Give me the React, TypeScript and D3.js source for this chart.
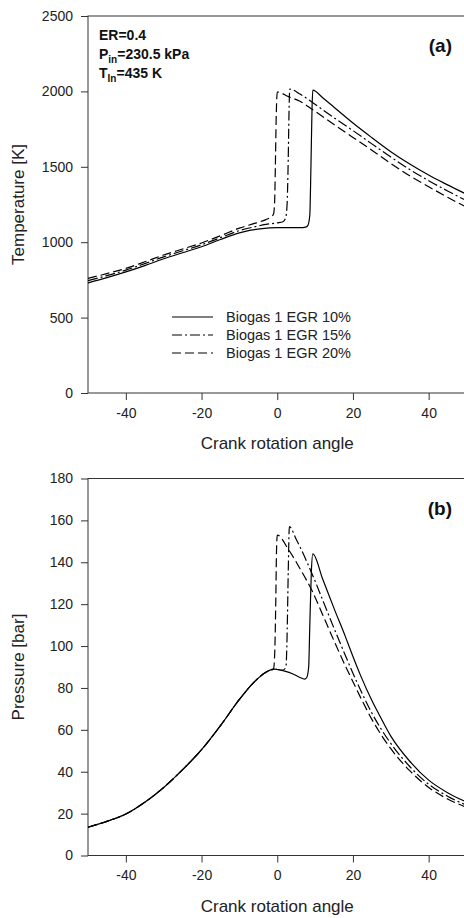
import { useEffect, useRef } from 'react';
import * as d3 from 'd3';

// Panel (a): temperature [K] vs crank angle
const tempAngle10 = [-50, -45, -40, -35, -30, -25, -20, -15, -10, -7, -4, 0, 4, 6, 7.5, 8.1, 8.6, 8.9, 9.2, 9.4, 12, 15, 20, 25, 30, 35, 40, 45, 50];
const temp10 = [730, 765, 803, 845, 890, 930, 970, 1018, 1062, 1080, 1090, 1096, 1097, 1096, 1100, 1112, 1180, 1500, 1900, 2008, 1958, 1895, 1790, 1693, 1600, 1518, 1445, 1380, 1318];

const tempAngle15 = [-50, -45, -40, -35, -30, -25, -20, -15, -10, -6, -3, 0, 1.5, 2.2, 2.6, 2.9, 3.1, 3.3, 6, 9.4, 15, 20, 25, 30, 35, 40, 45, 50];
const temp15 = [745, 778, 815, 858, 903, 943, 983, 1030, 1077, 1102, 1118, 1128, 1136, 1160, 1250, 1550, 1850, 2015, 1983, 1925, 1825, 1740, 1652, 1565, 1482, 1408, 1340, 1275];

const tempAngle20 = [-50, -45, -40, -35, -30, -25, -20, -15, -10, -6, -3, -1.6, -1, -0.7, -0.5, -0.3, 0, 3, 6, 9.4, 15, 20, 25, 30, 35, 40, 45, 50];
const temp20 = [760, 792, 826, 870, 915, 955, 995, 1043, 1093, 1125, 1150, 1168, 1185, 1260, 1500, 1800, 1996, 1965, 1935, 1878, 1780, 1695, 1610, 1522, 1440, 1368, 1298, 1232];

// Panel (b): pressure [bar] vs crank angle
const presAngle10 = [-50, -45, -40, -35, -30, -25, -20, -15, -10, -6, -3, -1, 0, 2, 4, 6, 7.2, 7.8, 8.3, 8.6, 9.0, 9.4, 12, 15, 18, 20, 22, 25, 27, 30, 35, 40, 45, 50];
const pres10 = [13.5, 16.3, 19.8, 25.4, 32.5, 41, 50.5, 62, 74.5, 83, 87.5, 89, 88.8, 88, 86.8, 85, 84.2, 85, 90, 110, 135, 144, 132, 118, 104.5, 95, 86, 74, 67, 57, 45, 36, 30, 25.5];

const presAngle15 = [-50, -45, -40, -35, -30, -25, -20, -15, -10, -6, -3, -1, 0, 1.5, 2.3, 2.6, 2.9, 3.2, 5, 8, 10, 12, 15, 18, 20, 22, 25, 30, 35, 40, 45, 50];
const pres15 = [13.5, 16.3, 19.8, 25.4, 32.5, 41, 50.5, 62, 74.5, 83, 87.5, 89, 88.8, 88.5, 90, 105, 135, 157, 151, 139.5, 131, 122, 108.5, 95.5, 87, 79, 68, 53.5, 42.5, 34, 28.3, 24];

const presAngle20 = [-50, -45, -40, -35, -30, -25, -20, -15, -10, -6, -3, -1, -0.7, -0.4, -0.2, 0, 3, 6, 9.3, 12, 15, 18, 20, 22, 25, 30, 35, 40, 45, 50];
const pres20 = [13.5, 16.3, 19.8, 25.4, 32.5, 41, 50.5, 62, 74.5, 83, 87.5, 89, 95, 120, 145, 153, 146, 137, 126, 115, 102.5, 90.5, 83, 75.5, 65, 51, 40.5, 32.5, 27, 23];

const seriesLabels = ['Biogas 1 EGR 10%', 'Biogas 1 EGR 15%', 'Biogas 1 EGR 20%'];
const seriesDash = ['none', '10,3,2,3', '9,4'];

const xTicks = [-40, -20, 0, 20, 40];
const tempTicks = [0, 500, 1000, 1500, 2000, 2500];
const presTicks = [0, 20, 40, 60, 80, 100, 120, 140, 160, 180];

const FONT = "'Liberation Sans', Arial, sans-serif";
const TEXT = '#222';
const AXIS = '#333';

type Series = { angle: number[]; value: number[] };

export default function App() {
    const svgRef = useRef<SVGSVGElement>(null);

    useEffect(() => {
        if (!svgRef.current) return;
        const svg = d3.select(svgRef.current);
        svg.selectAll('*').remove();

        const xScale = d3.scaleLinear().domain([-50, 50]).range([88, 466.5]);
        // plain hyphen for negatives, like the original
        const fmt = (d: any) => `${d}`;

        const drawPanel = (
            top: number,
            bottom: number,
            yMax: number,
            yTicks: number[],
            yTitle: string,
            tag: string,
            series: Series[],
        ) => {
            const yScale = d3.scaleLinear().domain([0, yMax]).range([bottom, top]);
            const g = svg.append('g');

            // frame
            g.append('rect')
                .attr('x', xScale(-50))
                .attr('y', top)
                .attr('width', xScale(50) - xScale(-50))
                .attr('height', bottom - top)
                .attr('fill', 'none')
                .attr('stroke', AXIS)
                .attr('stroke-width', 1);

            // y axis
            const yAxis = d3.axisLeft(yScale).tickValues(yTicks).tickSize(7).tickPadding(8).tickFormat(fmt);
            const ya = g.append('g').attr('transform', `translate(${xScale(-50)},0)`).call(yAxis);
            ya.select('.domain').remove();
            ya.selectAll('line').attr('stroke', AXIS);
            ya.selectAll('text').attr('fill', TEXT).attr('font-size', 14).attr('font-family', FONT);

            // x axis
            const xAxis = d3.axisBottom(xScale).tickValues(xTicks).tickSize(7).tickPadding(8).tickFormat(fmt);
            const xa = g.append('g').attr('transform', `translate(0,${bottom})`).call(xAxis);
            xa.select('.domain').remove();
            xa.selectAll('line').attr('stroke', AXIS);
            xa.selectAll('text').attr('fill', TEXT).attr('font-size', 14).attr('font-family', FONT);

            // titles
            g.append('text')
                .attr('x', xScale(0))
                .attr('y', bottom + 56)
                .attr('text-anchor', 'middle')
                .attr('font-size', 17)
                .attr('font-family', FONT)
                .attr('fill', TEXT)
                .text('Crank rotation angle');

            g.append('text')
                .attr('transform', `translate(24,${(top + bottom) / 2}) rotate(-90)`)
                .attr('text-anchor', 'middle')
                .attr('font-size', 17)
                .attr('font-family', FONT)
                .attr('fill', TEXT)
                .text(yTitle);

            g.append('text')
                .attr('x', 452)
                .attr('y', top + 36)
                .attr('text-anchor', 'end')
                .attr('font-size', 19)
                .attr('font-weight', 'bold')
                .attr('font-family', FONT)
                .attr('fill', '#111')
                .text(tag);

            // curves
            const line = d3
                .line<[number, number]>()
                .x((d) => xScale(d[0]))
                .y((d) => yScale(d[1]))
                .curve(d3.curveMonotoneX);

            series.forEach((s, i) => {
                const pts = s.angle.map((a, j) => [a, s.value[j]] as [number, number]);
                g.append('path')
                    .datum(pts)
                    .attr('fill', 'none')
                    .attr('stroke', '#000')
                    .attr('stroke-width', 1.2)
                    .attr('stroke-dasharray', seriesDash[i])
                    .attr('d', line);
            });

            return g;
        };

        const gA = drawPanel(16, 393, 2500, tempTicks, 'Temperature [K]', '(a)', [
            { angle: tempAngle10, value: temp10 },
            { angle: tempAngle15, value: temp15 },
            { angle: tempAngle20, value: temp20 },
        ]);

        drawPanel(478.5, 855.5, 180, presTicks, 'Pressure [bar]', '(b)', [
            { angle: presAngle10, value: pres10 },
            { angle: presAngle15, value: pres15 },
            { angle: presAngle20, value: pres20 },
        ]);

        // operating conditions
        const info = gA
            .append('text')
            .attr('font-size', 14)
            .attr('font-weight', 'bold')
            .attr('font-family', FONT)
            .attr('fill', '#111');
        info.append('tspan').attr('x', 99).attr('y', 40).text('ER=0.4');
        const pLine = info.append('tspan').attr('x', 99).attr('y', 58.5);
        pLine.append('tspan').text('P');
        pLine.append('tspan').attr('font-size', 10).attr('dy', 4).text('in');
        pLine.append('tspan').attr('dy', -4).text('=230.5 kPa');
        const tLine = info.append('tspan').attr('x', 99).attr('y', 78);
        tLine.append('tspan').text('T');
        tLine.append('tspan').attr('font-size', 10).attr('dy', 4).text('In');
        tLine.append('tspan').attr('dy', -4).text('=435 K');

        // legend
        const legend = gA.append('g').attr('transform', 'translate(172,317)');
        seriesLabels.forEach((label, i) => {
            const row = legend.append('g').attr('transform', `translate(0,${i * 18})`);
            row.append('line')
                .attr('x1', 0)
                .attr('x2', 41)
                .attr('stroke', '#000')
                .attr('stroke-width', 1.2)
                .attr('stroke-dasharray', seriesDash[i]);
            row.append('text')
                .attr('x', 54)
                .attr('y', 5)
                .attr('font-size', 14.5)
                .attr('font-family', FONT)
                .attr('fill', TEXT)
                .text(label);
        });
    }, []);

    return (
        <svg
            ref={svgRef}
            width={464}
            height={918}
            style={{ position: 'absolute', left: 0, top: 0, background: '#fff' }}
        />
    );
}
